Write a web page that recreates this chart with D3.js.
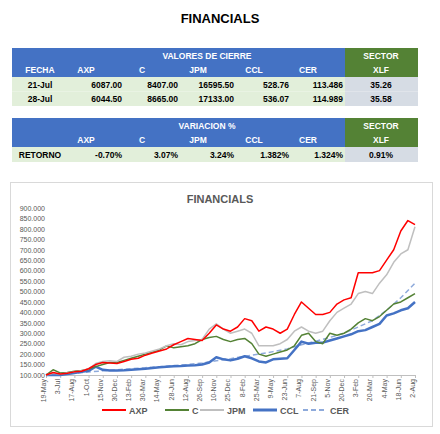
<!DOCTYPE html>
<html><head><meta charset="UTF-8">
<script src="https://cdn.jsdelivr.net/npm/d3@7"></script>
<style>body{margin:0;background:#fff;} svg text{font-family:"Liberation Sans",Arial,sans-serif;}</style>
</head><body><svg id="c" width="440" height="434"></svg>
<script>
const tickLabels = ["19-May","3-Jul","17-Aug","1-Oct","15-Nov","30-Dec","13-Feb","30-Mar","14-May","28-Jun","12-Aug","26-Sep","10-Nov","25-Dec","8-Feb","25-Mar","9-May","23-Jun","7-Aug","21-Sep","5-Nov","20-Dec","3-Feb","20-Mar","4-May","18-Jun","2-Aug"];
const axp = [100,112,105,108,115,118,130,150,160,158,155,165,175,180,195,205,215,225,245,260,275,270,265,300,340,320,310,330,370,360,310,330,320,300,320,390,450,420,390,390,400,440,460,470,590,590,590,600,650,700,790,840,820];
const jpm = [100,108,105,110,115,120,130,155,165,168,165,185,190,200,205,215,225,240,250,245,260,265,270,320,345,320,300,310,320,300,240,240,240,250,270,310,330,310,300,310,360,400,420,440,490,500,490,540,580,640,680,700,810];
const cSer = [100,125,110,112,118,122,128,140,150,160,160,170,180,190,200,210,220,240,230,235,240,250,270,280,285,270,260,270,275,250,200,190,200,210,220,240,290,300,260,250,300,290,300,320,350,370,360,380,410,440,450,470,490];
const ccl = [100,100,100,105,110,115,120,140,125,122,122,123,125,128,130,133,137,140,142,143,145,147,150,160,185,175,170,178,190,180,165,160,175,178,180,220,260,250,255,255,265,275,285,295,310,315,330,345,385,395,410,420,450];
const cer = [100,104,108,114,120,125,130,135,140,145,150,158,168,178,190,200,212,225,245,262,280,300,330,360,410,470,540];
const yTicks = [100,150,200,250,300,350,400,450,500,550,600,650,700,750,800,850,900];
const tableHead = ["FECHA","AXP","C","JPM","CCL","CER","XLF"];
const rows = [["21-Jul","6087.00","8407.00","16595.50","528.76","113.486","35.26"],["28-Jul","6044.50","8665.00","17133.00","536.07","114.989","35.58"]];
const varRow = ["RETORNO","-0.70%","3.07%","3.24%","1.382%","1.324%","0.91%"];

const svg = d3.select("#c");
const blue = "#4472c4", green = "#548235";
svg.append("text").attr("x",220).attr("y",23).attr("text-anchor","middle").attr("font-weight","bold").attr("font-size",13).text("FINANCIALS");

const colC = [40,96,152,208,264,318,381];
const alignR = [null,122,178,234,289,343,null];
const fs = 8.5;
function header(y0,title,cols){
  svg.append("rect").attr("x",12).attr("y",y0).attr("width",333).attr("height",29).attr("fill",blue);
  svg.append("rect").attr("x",345).attr("y",y0).attr("width",73).attr("height",29).attr("fill",green);
  svg.append("text").attr("x",207).attr("y",y0+11).attr("text-anchor","middle").attr("font-size",fs).attr("font-weight","bold").attr("fill","#fff").text(title);
  svg.append("text").attr("x",381).attr("y",y0+11).attr("text-anchor","middle").attr("font-size",fs).attr("font-weight","bold").attr("fill","#fff").text("SECTOR");
  cols.forEach((h,i)=>{ if(h) svg.append("text").attr("x",i==0?40:colC[i]-(i>0&&i<6?10:0)).attr("y",y0+25).attr("text-anchor","middle").attr("font-size",fs).attr("font-weight","bold").attr("fill","#fff").text(h); });
}
function dataRow(r,y0,h){
  svg.append("rect").attr("x",12).attr("y",y0).attr("width",333).attr("height",h).attr("fill","#e2efda");
  svg.append("rect").attr("x",345).attr("y",y0).attr("width",73).attr("height",h).attr("fill","#d6dce4");
  r.forEach((v,i)=>{
    const t = svg.append("text").attr("y",y0+h-4).attr("font-size",fs).attr("font-weight","bold");
    if(alignR[i]) t.attr("x",alignR[i]).attr("text-anchor","end"); else t.attr("x",colC[i]).attr("text-anchor","middle");
    t.text(v);
  });
}
header(48,"VALORES DE CIERRE",tableHead);
rows.forEach((r,j)=>dataRow(r,77+j*14.5,14.5));
header(118,"VARIACION %",["",...tableHead.slice(1)]);
dataRow(varRow,147,15);

// chart
svg.append("rect").attr("x",10.5).attr("y",182.5).attr("width",422).attr("height",244).attr("fill","#fff").attr("stroke","#d9d9d9");
svg.append("text").attr("x",220).attr("y",203).attr("text-anchor","middle").attr("font-size",11).attr("font-weight","bold").attr("fill","#595959").text("FINANCIALS");
const x = d3.scaleLinear().domain([0,26]).range([46,415]);
const y = d3.scaleLinear().domain([100,900]).range([375,208]);
const g = svg.append("g");
const yAxis = g.append("g").attr("transform","translate(46,0)").call(d3.axisLeft(y).tickValues(yTicks).tickSize(0).tickFormat(d=>d+".000"));
yAxis.select(".domain").remove();
yAxis.selectAll("text").attr("font-size",7).attr("fill","#595959").attr("x",-1);
const xAxis = g.append("g").attr("transform","translate(0,375)").call(d3.axisBottom(x).tickValues(d3.range(27)).tickSize(3).tickFormat(i=>tickLabels[i]));
xAxis.select(".domain").attr("stroke","#bfbfbf");
xAxis.selectAll("line").attr("stroke","#bfbfbf");
xAxis.selectAll("text").attr("font-size",7).attr("fill","#595959").attr("text-anchor","end").attr("transform","rotate(-90)").attr("x",-4).attr("y",-3).attr("dy","0.35em");
const half = d3.line().x((d,i)=>x(i/2)).y(d=>y(d));
const full = d3.line().x((d,i)=>x(i)).y(d=>y(d));
const series = [
  {n:"AXP",d:axp,c:"#ff0000",w:1.5,l:half},
  {n:"C",d:cSer,c:"#548235",w:1.5,l:half},
  {n:"JPM",d:jpm,c:"#bfbfbf",w:1.5,l:half},
  {n:"CCL",d:ccl,c:"#4472c4",w:2.5,l:half},
  {n:"CER",d:cer,c:"#8eaadb",w:1.5,l:full,dash:"5,3"}
];
[4,3,1,2,0].forEach(k=>{const s=series[k];
  g.append("path").attr("d",s.l(s.d)).attr("fill","none").attr("stroke",s.c).attr("stroke-width",s.w).attr("stroke-dasharray",s.dash||null).attr("stroke-linejoin","round");
});
const lx=[102,165,200,253,303];
series.forEach((s,i)=>{
  svg.append("line").attr("x1",lx[i]).attr("x2",lx[i]+24).attr("y1",410).attr("y2",410).attr("stroke",s.c).attr("stroke-width",s.w+0.5).attr("stroke-dasharray",s.dash||null);
  svg.append("text").attr("x",lx[i]+27).attr("y",413.5).attr("font-size",9).attr("font-weight","bold").attr("fill","#595959").text(s.n);
});
</script></body></html>
